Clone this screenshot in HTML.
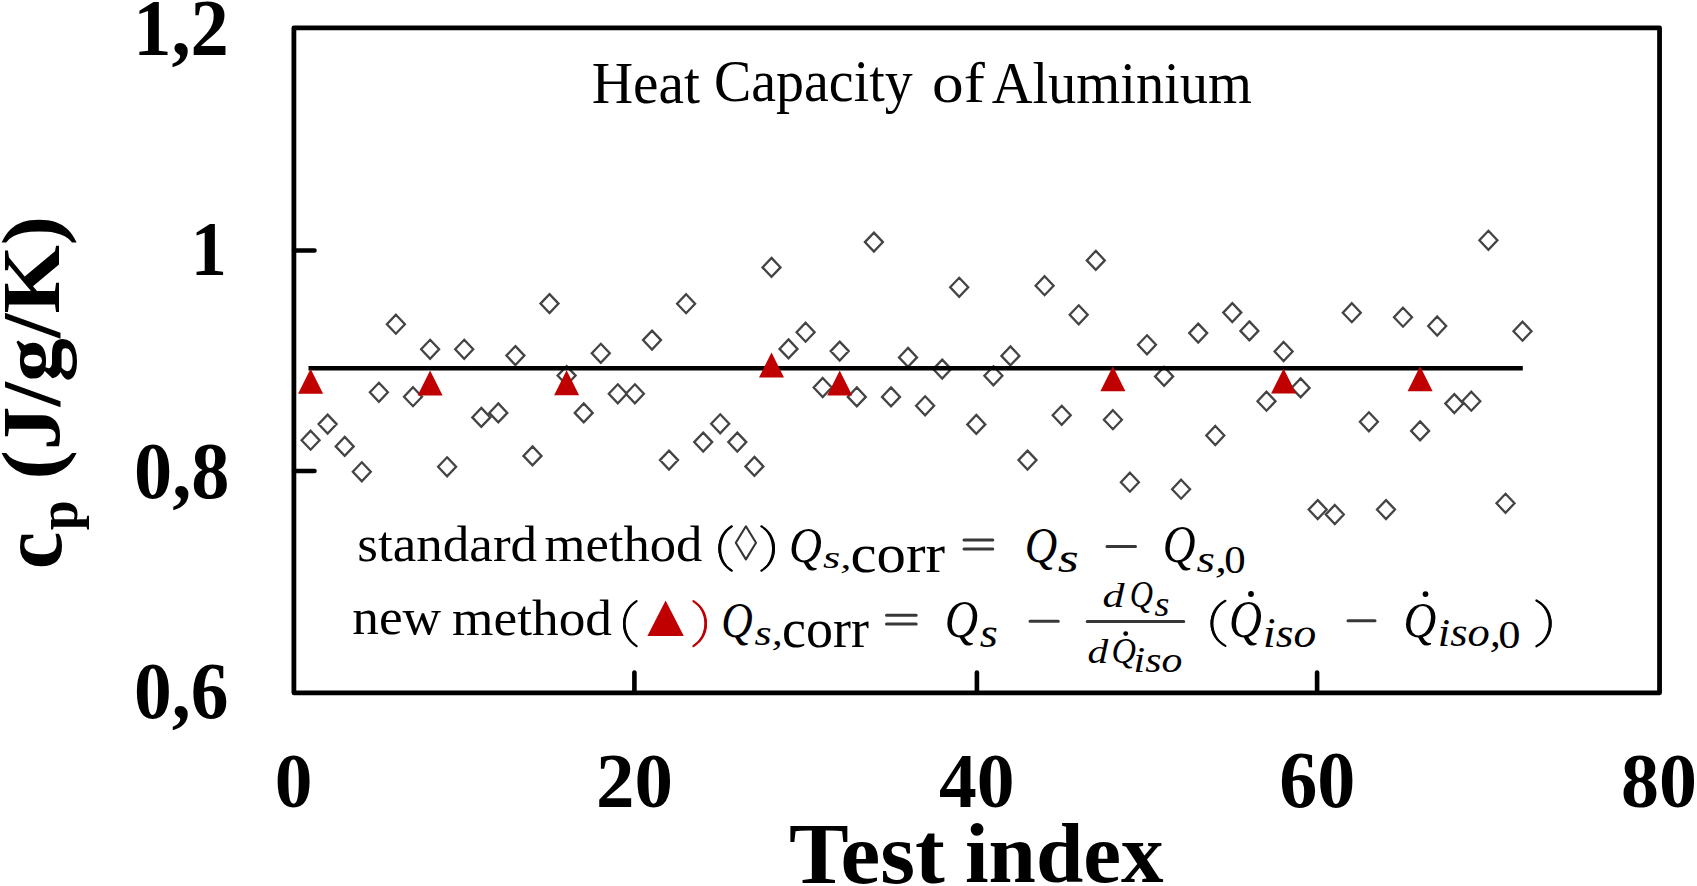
<!DOCTYPE html>
<html><head><meta charset="utf-8"><style>
html,body{margin:0;padding:0;background:#fff;width:1697px;height:886px;overflow:hidden}
svg{display:block}
text{font-family:"Liberation Serif",serif}
.b{font-weight:bold}
</style></head><body>
<svg width="1697" height="886" viewBox="0 0 1697 886">
<rect x="0" y="0" width="1697" height="886" fill="#fff"/>
<rect x="293.9" y="27.9" width="1365.65" height="664.9" fill="none" stroke="#000" stroke-width="4.8" stroke-linejoin="round"/>
<path d="M294 250.5H314.5M294 471H314.5M634.4 692.7V672.5M976.9 692.7V672.5M1317.1 692.7V672.5" stroke="#000" stroke-width="4.6" stroke-linecap="round"/>
<path d="M310.6 430.7l9.0 9.5l-9.0 9.5l-9.0 -9.5zM327.6 414.6l9.0 9.5l-9.0 9.5l-9.0 -9.5zM344.7 436.9l9.0 9.5l-9.0 9.5l-9.0 -9.5zM361.8 462.3l9.0 9.5l-9.0 9.5l-9.0 -9.5zM378.9 382.8l9.0 9.5l-9.0 9.5l-9.0 -9.5zM395.9 314.7l9.0 9.5l-9.0 9.5l-9.0 -9.5zM413.0 387.2l9.0 9.5l-9.0 9.5l-9.0 -9.5zM430.1 339.8l9.0 9.5l-9.0 9.5l-9.0 -9.5zM447.1 457.3l9.0 9.5l-9.0 9.5l-9.0 -9.5zM464.2 339.8l9.0 9.5l-9.0 9.5l-9.0 -9.5zM481.3 407.9l9.0 9.5l-9.0 9.5l-9.0 -9.5zM498.3 403.4l9.0 9.5l-9.0 9.5l-9.0 -9.5zM515.4 346.1l9.0 9.5l-9.0 9.5l-9.0 -9.5zM532.5 446.4l9.0 9.5l-9.0 9.5l-9.0 -9.5zM549.5 294.1l9.0 9.5l-9.0 9.5l-9.0 -9.5zM566.6 366.1l9.0 9.5l-9.0 9.5l-9.0 -9.5zM583.7 403.4l9.0 9.5l-9.0 9.5l-9.0 -9.5zM600.8 343.8l9.0 9.5l-9.0 9.5l-9.0 -9.5zM617.8 384.3l9.0 9.5l-9.0 9.5l-9.0 -9.5zM634.9 384.3l9.0 9.5l-9.0 9.5l-9.0 -9.5zM652.0 330.6l9.0 9.5l-9.0 9.5l-9.0 -9.5zM669.0 450.6l9.0 9.5l-9.0 9.5l-9.0 -9.5zM686.1 294.2l9.0 9.5l-9.0 9.5l-9.0 -9.5zM703.2 432.6l9.0 9.5l-9.0 9.5l-9.0 -9.5zM720.2 414.3l9.0 9.5l-9.0 9.5l-9.0 -9.5zM737.3 432.6l9.0 9.5l-9.0 9.5l-9.0 -9.5zM754.4 456.9l9.0 9.5l-9.0 9.5l-9.0 -9.5zM771.5 257.9l9.0 9.5l-9.0 9.5l-9.0 -9.5zM788.5 339.4l9.0 9.5l-9.0 9.5l-9.0 -9.5zM805.6 322.7l9.0 9.5l-9.0 9.5l-9.0 -9.5zM822.7 378.0l9.0 9.5l-9.0 9.5l-9.0 -9.5zM839.7 341.6l9.0 9.5l-9.0 9.5l-9.0 -9.5zM856.8 387.4l9.0 9.5l-9.0 9.5l-9.0 -9.5zM873.9 232.6l9.0 9.5l-9.0 9.5l-9.0 -9.5zM891.0 387.4l9.0 9.5l-9.0 9.5l-9.0 -9.5zM908.0 347.9l9.0 9.5l-9.0 9.5l-9.0 -9.5zM925.1 396.3l9.0 9.5l-9.0 9.5l-9.0 -9.5zM942.2 359.6l9.0 9.5l-9.0 9.5l-9.0 -9.5zM959.2 277.8l9.0 9.5l-9.0 9.5l-9.0 -9.5zM976.3 414.9l9.0 9.5l-9.0 9.5l-9.0 -9.5zM993.4 366.3l9.0 9.5l-9.0 9.5l-9.0 -9.5zM1010.4 346.4l9.0 9.5l-9.0 9.5l-9.0 -9.5zM1027.5 450.6l9.0 9.5l-9.0 9.5l-9.0 -9.5zM1044.6 276.2l9.0 9.5l-9.0 9.5l-9.0 -9.5zM1061.7 405.8l9.0 9.5l-9.0 9.5l-9.0 -9.5zM1078.7 305.3l9.0 9.5l-9.0 9.5l-9.0 -9.5zM1095.8 250.9l9.0 9.5l-9.0 9.5l-9.0 -9.5zM1112.9 410.2l9.0 9.5l-9.0 9.5l-9.0 -9.5zM1129.9 472.7l9.0 9.5l-9.0 9.5l-9.0 -9.5zM1147.0 335.3l9.0 9.5l-9.0 9.5l-9.0 -9.5zM1164.1 366.9l9.0 9.5l-9.0 9.5l-9.0 -9.5zM1181.1 479.7l9.0 9.5l-9.0 9.5l-9.0 -9.5zM1198.2 323.6l9.0 9.5l-9.0 9.5l-9.0 -9.5zM1215.3 426.0l9.0 9.5l-9.0 9.5l-9.0 -9.5zM1232.3 303.1l9.0 9.5l-9.0 9.5l-9.0 -9.5zM1249.4 321.4l9.0 9.5l-9.0 9.5l-9.0 -9.5zM1266.5 391.7l9.0 9.5l-9.0 9.5l-9.0 -9.5zM1283.6 342.0l9.0 9.5l-9.0 9.5l-9.0 -9.5zM1300.6 378.4l9.0 9.5l-9.0 9.5l-9.0 -9.5zM1317.7 500.1l9.0 9.5l-9.0 9.5l-9.0 -9.5zM1334.8 505.0l9.0 9.5l-9.0 9.5l-9.0 -9.5zM1351.8 303.2l9.0 9.5l-9.0 9.5l-9.0 -9.5zM1368.9 412.3l9.0 9.5l-9.0 9.5l-9.0 -9.5zM1386.0 500.1l9.0 9.5l-9.0 9.5l-9.0 -9.5zM1403.0 307.7l9.0 9.5l-9.0 9.5l-9.0 -9.5zM1420.1 421.4l9.0 9.5l-9.0 9.5l-9.0 -9.5zM1437.2 316.5l9.0 9.5l-9.0 9.5l-9.0 -9.5zM1454.3 394.1l9.0 9.5l-9.0 9.5l-9.0 -9.5zM1471.3 391.7l9.0 9.5l-9.0 9.5l-9.0 -9.5zM1488.4 230.8l9.0 9.5l-9.0 9.5l-9.0 -9.5zM1505.5 493.8l9.0 9.5l-9.0 9.5l-9.0 -9.5zM1522.5 321.7l9.0 9.5l-9.0 9.5l-9.0 -9.5z" fill="none" stroke="#444" stroke-width="2.3"/>
<path d="M308.5 368.2H1522.8" stroke="#000" stroke-width="4.4"/>
<path d="M310.6 368.8l12.5 25h-25zM430.1 370.6l12.5 25h-25zM566.6 370.2l12.5 25h-25zM771.5 352.4l12.5 25h-25zM839.7 370.5l12.5 25h-25zM1112.9 366.3l12.5 25h-25zM1283.6 368.6l12.5 25h-25zM1420.1 366.3l12.5 25h-25z" fill="#c00000"/>
<text transform="rotate(-90) matrix(0.9818 0 0 0.9976 -569.35 60.60)" font-weight="bold" font-style="normal" font-size="86" fill="#000">c</text>
<text transform="rotate(-90) matrix(0.9963 0 0 1.0459 -530.30 77.45)" font-weight="bold" font-style="normal" font-size="54" fill="#000">p</text>
<text transform="rotate(-90) matrix(1.0220 0 0 0.9494 -479.59 59.36)" font-weight="bold" font-style="normal" font-size="86" fill="#000">(J/g/K)</text>
<text transform="matrix(0.9875 0 0 1.0435 133.17 54.82)" font-weight="bold" font-style="normal" font-size="77.5" fill="#000">1,2</text>
<text transform="matrix(0.9310 0 0 1.0176 190.81 275.20)" font-weight="bold" font-style="normal" font-size="77.5" fill="#000">1</text>
<text transform="matrix(0.9846 0 0 1.0258 134.05 497.72)" font-weight="bold" font-style="normal" font-size="77.5" fill="#000">0,8</text>
<text transform="matrix(0.9739 0 0 1.0258 134.08 718.22)" font-weight="bold" font-style="normal" font-size="77.5" fill="#000">0,6</text>
<text transform="matrix(0.9727 0 0 1.0098 274.68 807.30)" font-weight="bold" font-style="normal" font-size="77.5" fill="#000">0</text>
<text transform="matrix(0.9931 0 0 1.0059 596.12 807.00)" font-weight="bold" font-style="normal" font-size="77.5" fill="#000">20</text>
<text transform="matrix(0.9757 0 0 1.0059 938.92 807.00)" font-weight="bold" font-style="normal" font-size="77.5" fill="#000">40</text>
<text transform="matrix(0.9819 0 0 1.0275 1279.25 807.40)" font-weight="bold" font-style="normal" font-size="77.5" fill="#000">60</text>
<text transform="matrix(0.9792 0 0 1.0098 1620.96 807.30)" font-weight="bold" font-style="normal" font-size="77.5" fill="#000">80</text>
<text transform="matrix(1.0287 0 0 1.0034 788.97 882.60)" font-weight="bold" font-style="normal" font-size="87" fill="#000">Test</text>
<text transform="matrix(0.9781 0 0 0.9672 964.94 882.33)" font-weight="bold" font-style="normal" font-size="87" fill="#000">index</text>
<text transform="matrix(0.9725 0 0 0.9974 591.66 102.70)" font-weight="normal" font-style="normal" font-size="59" fill="#000">Heat</text>
<text transform="matrix(0.9476 0 0 1.0192 714.00 101.25)" font-weight="normal" font-style="normal" font-size="59" fill="#000">Capacity</text>
<text transform="matrix(1.0723 0 0 0.9667 932.06 102.40)" font-weight="normal" font-style="normal" font-size="59" fill="#000">of</text>
<text transform="matrix(0.9570 0 0 0.9976 991.64 102.70)" font-weight="normal" font-style="normal" font-size="59" fill="#000">Aluminium</text>
<text transform="matrix(1.0114 0 0 0.9541 357.28 560.80)" font-weight="normal" font-style="normal" font-size="52.5" fill="#000">standard</text>
<text transform="matrix(1.0026 0 0 0.9541 544.50 560.80)" font-weight="normal" font-style="normal" font-size="52.5" fill="#000">method</text>
<text transform="matrix(1.0163 0 0 0.9560 352.28 634.44)" font-weight="normal" font-style="normal" font-size="52.5" fill="#000">new</text>
<text transform="matrix(1.0154 0 0 0.9514 452.08 635.40)" font-weight="normal" font-style="normal" font-size="52.5" fill="#000">method</text>
<text transform="matrix(0.8765 0 0 0.9767 789.07 562.09)" font-weight="normal" font-style="italic" font-size="52" fill="#000">Q</text>
<text transform="matrix(1.1091 0 0 0.7840 823.09 567.90)" font-weight="normal" font-style="italic" font-size="40" fill="#000">s,</text>
<text transform="matrix(1.1296 0 0 1.0417 850.44 571.90)" font-weight="normal" font-style="normal" font-size="52" fill="#000">corr</text>
<text transform="matrix(0.8647 0 0 0.9767 1024.81 562.09)" font-weight="normal" font-style="italic" font-size="52" fill="#000">Q</text>
<text transform="matrix(1.3462 0 0 1.0474 1057.85 572.30)" font-weight="normal" font-style="italic" font-size="40" fill="#000">s</text>
<text transform="matrix(0.8735 0 0 1.0093 1162.78 562.23)" font-weight="normal" font-style="italic" font-size="52" fill="#000">Q</text>
<text transform="matrix(1.1864 0 0 0.9360 1196.61 571.88)" font-weight="normal" font-style="italic" font-size="40" fill="#000">s,</text>
<text transform="matrix(1.0706 0 0 0.9885 1224.16 572.70)" font-weight="normal" font-style="normal" font-size="40" fill="#000">0</text>
<text transform="matrix(0.8382 0 0 0.9930 721.29 636.96)" font-weight="normal" font-style="italic" font-size="52" fill="#000">Q</text>
<text transform="matrix(1.1045 0 0 0.9200 754.60 645.48)" font-weight="normal" font-style="italic" font-size="40" fill="#000">s,</text>
<text transform="matrix(1.0383 0 0 1.0417 782.02 646.90)" font-weight="normal" font-style="normal" font-size="52" fill="#000">corr</text>
<text transform="matrix(0.8882 0 0 1.0000 944.84 637.00)" font-weight="normal" font-style="italic" font-size="52" fill="#000">Q</text>
<text transform="matrix(1.1615 0 0 1.0474 979.74 647.40)" font-weight="normal" font-style="italic" font-size="40" fill="#000">s</text>
<text transform="matrix(1.1000 0 0 0.8379 1102.60 606.60)" font-weight="normal" font-style="italic" font-size="40" fill="#000">d</text>
<text transform="matrix(0.8038 0 0 0.9531 1129.79 607.08)" font-weight="normal" font-style="italic" font-size="40" fill="#000">Q</text>
<text transform="matrix(1.2818 0 0 1.1643 1154.50 615.60)" font-weight="normal" font-style="italic" font-size="30" fill="#000">s</text>
<text transform="matrix(1.0368 0 0 0.8345 1087.46 663.00)" font-weight="normal" font-style="italic" font-size="40" fill="#000">d</text>
<text transform="matrix(0.8462 0 0 0.9000 1111.61 663.30)" font-weight="normal" font-style="italic" font-size="40" fill="#000">Q</text>
<text transform="matrix(1.3937 0 0 1.1632 1133.61 672.10)" font-weight="normal" font-style="italic" font-size="30" fill="#000">iso</text>
<text transform="matrix(0.8765 0 0 1.0070 1228.97 636.94)" font-weight="normal" font-style="italic" font-size="52" fill="#000">Q</text>
<text transform="matrix(1.1386 0 0 1.0423 1263.12 647.30)" font-weight="normal" font-style="italic" font-size="40" fill="#000">iso</text>
<text transform="matrix(0.8735 0 0 0.9884 1403.48 636.99)" font-weight="normal" font-style="italic" font-size="52" fill="#000">Q</text>
<text transform="matrix(1.1135 0 0 0.9844 1437.87 645.99)" font-weight="normal" font-style="italic" font-size="40" fill="#000">iso,</text>
<text transform="matrix(1.1118 0 0 0.9808 1498.18 647.70)" font-weight="normal" font-style="normal" font-size="40" fill="#000">0</text>
<path d="M731.8 526.3C715.3 536.6 715.3 560.4 731.8 570.7" fill="none" stroke="#000" stroke-width="2.2" stroke-linecap="round"/><path d="M732.6 526.2C713.5 535.5 713.5 561.5 732.6 570.8C717.5 560.6 717.5 536.4 732.6 526.2Z" fill="#000"/>
<path d="M761.4 526.3C778.1 536.6 778.1 560.4 761.4 570.7" fill="none" stroke="#000" stroke-width="2.2" stroke-linecap="round"/><path d="M760.6 526.2C779.8 535.5 779.8 561.5 760.6 570.8C775.8 560.6 775.8 536.4 760.6 526.2Z" fill="#000"/>
<path d="M636.6 601.1C619.9 611.5 619.9 635.7 636.6 646.1" fill="none" stroke="#000" stroke-width="2.2" stroke-linecap="round"/><path d="M637.4 601.0C618.2 610.4 618.2 636.8 637.4 646.2C621.9 635.9 621.9 611.3 637.4 601.0Z" fill="#000"/>
<path d="M693.4 601.1C710.1 611.5 710.1 635.7 693.4 646.1" fill="none" stroke="#c00000" stroke-width="2.2" stroke-linecap="round"/><path d="M692.6 601.0C711.8 610.4 711.8 636.8 692.6 646.2C708.3 635.9 708.3 611.3 692.6 601.0Z" fill="#c00000"/>
<path d="M1225.4 600.8C1207.0 611.2 1207.0 635.5 1225.4 645.9" fill="none" stroke="#000" stroke-width="2.2" stroke-linecap="round"/><path d="M1226.2 600.7C1205.3 610.1 1205.3 636.6 1226.2 646.0C1209.3 635.6 1209.3 611.1 1226.2 600.7Z" fill="#000"/>
<path d="M1536.4 600.5C1555.3 611.1 1555.3 635.7 1536.4 646.3" fill="none" stroke="#000" stroke-width="2.2" stroke-linecap="round"/><path d="M1535.6 600.4C1557.1 610.0 1557.1 636.8 1535.6 646.4C1553.1 635.9 1553.1 610.9 1535.6 600.4Z" fill="#000"/>
<!-- lozenge -->
<path d="M745.9 526.3L756 542.8L745.9 559.4L735.8 542.8Z" fill="none" stroke="#333" stroke-width="2.1" stroke-linejoin="round"/>
<!-- legend triangle -->
<path d="M665.6 600.6L683.8 636.1H647.4Z" fill="#c00000"/>
<!-- equals/minus/bar -->
<path d="M964 540.1H992.8M964 548.9H992.8M1107 546.4H1135.5M886.5 615.2H916.2M886.5 624H916.2M1030 621.2H1058.3M1087.2 621.6H1183.8M1348 620.7H1375" stroke="#383838" stroke-width="3" stroke-linecap="round"/>
<!-- dots -->
<circle cx="1125.7" cy="633.6" r="2.4"/>
<circle cx="1251" cy="594" r="2.9"/>
<circle cx="1425.5" cy="594.1" r="2.9"/>
</svg>
</body></html>
